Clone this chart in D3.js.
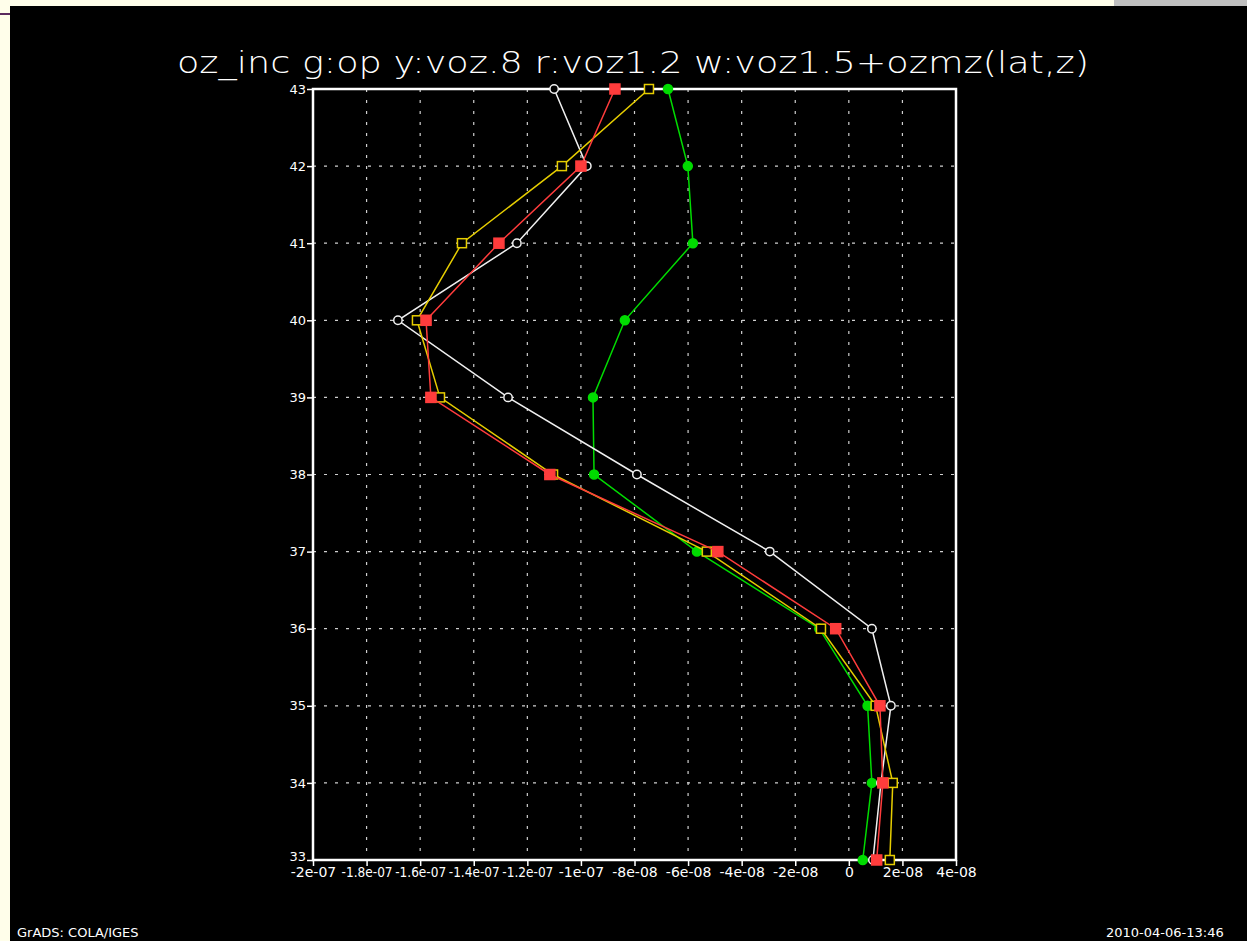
<!DOCTYPE html>
<html>
<head>
<meta charset="utf-8">
<script src="https://cdn.jsdelivr.net/npm/d3@7"></script>
<style>
  html, body { margin: 0; padding: 0; background: #fffeea; overflow: hidden; }
  svg { display: block; }
</style>
</head>
<body>
<svg id="chart"></svg>
<script>
// level (y) values and the four profiles (x values)
const levels = [33, 34, 35, 36, 37, 38, 39, 40, 41, 42, 43];
const whiteVals  = [0.9e-8, 1.2e-8, 1.57e-8, 0.86e-8, -2.95e-8, -7.91e-8, -12.72e-8, -16.83e-8, -12.39e-8, -9.78e-8, -11.0e-8];
const yellowVals = [1.53e-8, 1.64e-8, 1.0e-8, -1.04e-8, -5.3e-8, -11.04e-8, -15.26e-8, -16.12e-8, -14.44e-8, -10.71e-8, -7.46e-8];
const redVals    = [1.04e-8, 1.27e-8, 1.16e-8, -0.49e-8, -4.89e-8, -11.16e-8, -15.6e-8, -15.78e-8, -13.06e-8, -10.0e-8, -8.73e-8];
const greenVals  = [0.52e-8, 0.86e-8, 0.7e-8, -1.1e-8, -5.67e-8, -9.51e-8, -9.55e-8, -8.36e-8, -5.82e-8, -6.01e-8, -6.75e-8];

const xTicks = [-20e-8, -18e-8, -16e-8, -14e-8, -12e-8, -10e-8, -8e-8, -6e-8, -4e-8, -2e-8, 0, 2e-8, 4e-8];
const xTickLabels = ["-2e-07", "-1.8e-07", "-1.6e-07", "-1.4e-07", "-1.2e-07", "-1e-07",
                     "-8e-08", "-6e-08", "-4e-08", "-2e-08", "0", "2e-08", "4e-08"];
const yTicks = [33, 34, 35, 36, 37, 38, 39, 40, 41, 42, 43];

const width = 1247, height = 941;
const plot = { left: 313, right: 956, top: 89, bottom: 860 };

const svg = d3.select("#chart")
    .attr("width", width)
    .attr("height", height);

// window frame bits around the black canvas
svg.append("rect").attr("x", 1114).attr("y", 0).attr("width", 133).attr("height", 6).attr("fill", "#c0c0c0");
svg.append("rect").attr("x", 0).attr("y", 13).attr("width", 10).attr("height", 2).attr("fill", "#5b2a5e");
svg.append("rect").attr("x", 10).attr("y", 6).attr("width", width - 10).attr("height", height - 6).attr("fill", "#000");

const x = d3.scaleLinear().domain([-20e-8, 4e-8]).range([plot.left, plot.right]);
const y = d3.scaleLinear().domain([33, 43]).range([plot.bottom, plot.top]);

// dotted grid
const grid = svg.append("g").attr("stroke", "#cfcfcf").attr("stroke-width", 1.2)
    .attr("stroke-dasharray", "3,8");
grid.selectAll("line.v")
    .data(xTicks.slice(1, -1))
    .enter().append("line")
    .attr("x1", d => x(d)).attr("x2", d => x(d))
    .attr("y1", plot.top).attr("y2", plot.bottom);
grid.selectAll("line.h")
    .data(yTicks.slice(1, -1))
    .enter().append("line")
    .attr("x1", plot.left).attr("x2", plot.right)
    .attr("y1", d => y(d)).attr("y2", d => y(d));

// axes
const xAxis = svg.append("g")
    .attr("transform", `translate(0,${plot.bottom})`)
    .call(d3.axisBottom(x).tickValues(xTicks).tickFormat((d, i) => xTickLabels[i]).tickSize(6).tickSizeOuter(0));
const yAxis = svg.append("g")
    .attr("transform", `translate(${plot.left},0)`)
    .call(d3.axisLeft(y).tickValues(yTicks).tickFormat(d3.format("d")).tickSize(6).tickSizeOuter(0));

[xAxis, yAxis].forEach(a => {
    a.select(".domain").remove();
    a.selectAll(".tick line").attr("stroke", "#fff").attr("stroke-width", 1.5);
    a.selectAll("text").attr("fill", "#fff").attr("font-family", "DejaVu Sans, sans-serif");
});
xAxis.selectAll("text")
    .attr("font-size", 14).attr("dy", "0.55em").attr("y", 9)
    .each(function() {
        // squeeze the long labels so neighbours don't run into each other
        const t = d3.select(this);
        if (this.getComputedTextLength() > 51) {
            t.attr("textLength", 51).attr("lengthAdjust", "spacingAndGlyphs");
        }
    });
yAxis.selectAll("text").attr("font-size", 13).attr("x", -7);
// bottom level label sits just above the x labels
yAxis.selectAll(".tick text").filter(d => d === 33).attr("dy", "0.05em");

// plot frame
svg.append("rect")
    .attr("x", plot.left).attr("y", plot.top)
    .attr("width", plot.right - plot.left).attr("height", plot.bottom - plot.top)
    .attr("fill", "none").attr("stroke", "#fff").attr("stroke-width", 2.5);

const line = d3.line().x(d => x(d[0])).y(d => y(d[1]));

const series = [
    { vals: greenVals,  color: "#00dc00", marker: "circle", filled: true,  size: 4.5 },
    { vals: whiteVals,  color: "#f0f0f0", marker: "circle", filled: false, size: 4.2 },
    { vals: yellowVals, color: "#e6cd00", marker: "square", filled: false, size: 9 },
    { vals: redVals,    color: "#ff3c3c", marker: "square", filled: true,  size: 10 }
];

series.forEach(s => {
    const pts = levels.map((lv, i) => [s.vals[i], lv]);
    const g = svg.append("g");
    g.append("path")
        .attr("d", line(pts))
        .attr("fill", "none")
        .attr("stroke", s.color)
        .attr("stroke-width", 1.5);
    if (s.marker === "circle") {
        g.selectAll("circle").data(pts).enter().append("circle")
            .attr("cx", d => x(d[0])).attr("cy", d => y(d[1]))
            .attr("r", s.size)
            .attr("fill", s.filled ? s.color : "#000")
            .attr("stroke", s.color).attr("stroke-width", 1.5);
    } else {
        g.selectAll("rect").data(pts).enter().append("rect")
            .attr("x", d => x(d[0]) - s.size / 2).attr("y", d => y(d[1]) - s.size / 2)
            .attr("width", s.size).attr("height", s.size)
            .attr("fill", s.filled ? s.color : "#000")
            .attr("stroke", s.color).attr("stroke-width", 1.5);
    }
});

// title and footer
svg.append("text")
    .attr("x", 633).attr("y", 73)
    .attr("text-anchor", "middle")
    .attr("fill", "#fff")
    .attr("font-family", "DejaVu Sans, sans-serif")
    .attr("font-weight", 300)
    .attr("font-size", 30)
    .attr("textLength", 912)
    .attr("lengthAdjust", "spacingAndGlyphs")
    .text("oz_inc  g:op  y:voz.8  r:voz1.2  w:voz1.5+ozmz(lat,z)");

svg.append("text")
    .attr("x", 17).attr("y", 937)
    .attr("fill", "#fff")
    .attr("font-family", "DejaVu Sans, sans-serif")
    .attr("font-size", 13)
    .text("GrADS: COLA/IGES");

svg.append("text")
    .attr("x", 1106).attr("y", 937)
    .attr("fill", "#fff")
    .attr("font-family", "DejaVu Sans, sans-serif")
    .attr("font-size", 13)
    .text("2010-04-06-13:46");
</script>
</body>
</html>
